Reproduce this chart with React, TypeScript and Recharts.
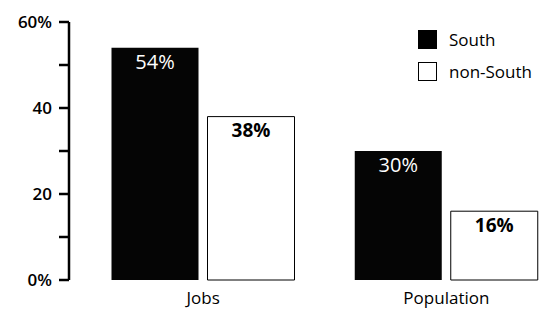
import { BarChart, Bar, XAxis, YAxis, LabelList } from "recharts";

const categories = ["Jobs", "Population"];
const southValues = [54, 30];
const nonSouthValues = [38, 16];
const yTicks = [0, 10, 20, 30, 40, 50, 60];
const yTickLabels: Record<number, string> = { 0: "0%", 20: "20", 40: "40", 60: "60%" };

const data = categories.map((name, i) => ({
  name,
  south: southValues[i],
  nonSouth: nonSouthValues[i],
}));

const FONT = "'Open Sans', 'DejaVu Sans', sans-serif";

function LegendBox() {
  const row = (fill: string, label: string) => (
    <div style={{ display: "flex", alignItems: "center", height: 32 }}>
      <div style={{ width: 19, height: 19, boxSizing: "border-box", background: fill, border: "1.5px solid #000", marginRight: 12 }} />
      <span style={{ fontSize: 17, color: "#000" }}>{label}</span>
    </div>
  );
  return (
    <div style={{ fontFamily: FONT }}>
      {row("#000", "South")}
      {row("#fff", "non-South")}
    </div>
  );
}

export default function App() {
  return (
    <div style={{ position: "fixed", left: 0, top: 0, width: 539, height: 310, overflow: "hidden", background: "#fff" }}>
      <div style={{ position: "absolute", left: 418, top: 23 }}>
        <LegendBox />
      </div>
      <BarChart
        width={568}
        height={310}
        data={data}
        margin={{ top: 22, right: 0, bottom: 0, left: 0 }}
        barSize={87}
        barGap={9}
        style={{ fontFamily: FONT }}
      >
        <XAxis
          dataKey="name"
          axisLine={false}
          tickLine={false}
          height={30}
          padding={{ left: 12.5, right: 0 }}
          tickMargin={6}
          tick={{ fill: "#000", fontSize: 17 }}
        />
        <YAxis
          width={69}
          domain={[0, 60]}
          ticks={yTicks}
          interval={0}
          tickSize={10}
          tickMargin={7}
          stroke="#000"
          strokeWidth={2.5}
          tickLine={{ stroke: "#000", strokeWidth: 2.5 }}
          tickFormatter={(v: number) => yTickLabels[v] ?? ""}
          tick={{ fill: "#000", fontSize: 17, fontWeight: 600 }}
        />
        <Bar dataKey="south" fill="#050505" isAnimationActive={false}>
          <LabelList dataKey="south" position="insideTop" offset={7} formatter={(v: number) => `${v}%`} fill="#fff" fontSize={20} />
        </Bar>
        <Bar dataKey="nonSouth" fill="#fff" stroke="#000" strokeWidth={1} isAnimationActive={false}>
          <LabelList dataKey="nonSouth" position="insideTop" offset={7} formatter={(v: number) => `${v}%`} fill="#000" fontSize={19} fontWeight={700} />
        </Bar>
      </BarChart>
    </div>
  );
}
